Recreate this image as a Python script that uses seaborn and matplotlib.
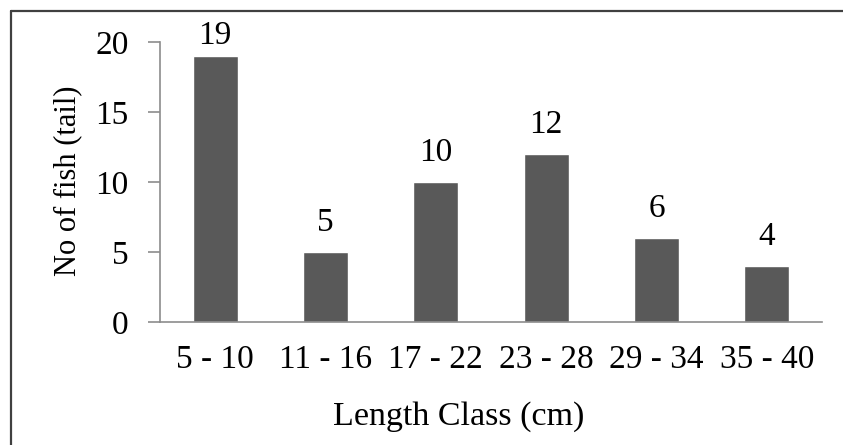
import matplotlib
matplotlib.use("Agg")
import matplotlib.pyplot as plt
import seaborn as sns
import pandas as pd
from matplotlib.lines import Line2D

length_classes = ["5 - 10", "11 - 16", "17 - 22", "23 - 28", "29 - 34", "35 - 40"]
fish_counts = [19, 5, 10, 12, 6, 4]

sns.set_theme(style="white")
plt.rcParams["font.family"] = ["Liberation Serif", "DejaVu Serif"]

df = pd.DataFrame({"Length Class (cm)": length_classes, "No of fish (tail)": fish_counts})

W, H = 843, 445
fs = 24
fig = plt.figure(figsize=(W / 100, H / 100), dpi=100)
fig.patch.set_facecolor("white")
ax = fig.add_axes([160 / W, 1 - 322 / H, (822 - 160) / W, (322 - 42) / H])

sns.barplot(data=df, x="Length Class (cm)", y="No of fish (tail)", color="#595959",
            saturation=1, width=0.41, ax=ax)

ax.set_ylim(0, 20)
ax.set_yticks([0, 5, 10, 15, 20])
ax.set_xlim(-0.5, len(length_classes) - 0.5)

axis_col = "#8c8c8c"
for side in ("top", "right"):
    ax.spines[side].set_visible(False)
for side in ("left", "bottom"):
    ax.spines[side].set_color(axis_col)
    ax.spines[side].set_linewidth(1.2)

ax.tick_params(axis="y", length=8.6, width=1.2, color=axis_col, pad=14,
               labelsize=fs, labelcolor="black", left=True)
ax.tick_params(axis="x", length=0, pad=16, labelsize=fs, labelcolor="black")

# axis titles
ax.set_xlabel("Length Class (cm)", fontsize=24.5, color="black")
ax.xaxis.label.set_va("baseline")
ax.xaxis.set_label_coords((459 - 160) / 662, (322 - 425) / 280)

ax.set_ylabel("No of fish (tail)", fontsize=22, color="black")
ax.yaxis.label.set_va("center")
ax.yaxis.set_label_coords((68 - 160) / 662, 0.505)

# value labels; the tallest bar's label is tucked closer so it stays inside the frame
for container in ax.containers:
    labels = ax.bar_label(container, labels=[str(v) for v in fish_counts], padding=10,
                          fontsize=fs, color="black")
    for lab, v in zip(labels, fish_counts):
        if v > 0.9 * ax.get_ylim()[1]:
            lab.xyann = (0, 3.5)

# outer chart frame (top and left edges)
frame_kw = dict(transform=fig.transFigure, color="#404040", linewidth=1.6)
fig.add_artist(Line2D([11 / W, 1.0], [1 - 11 / H, 1 - 11 / H], **frame_kw))
fig.add_artist(Line2D([11 / W, 11 / W], [0.0, 1 - 11 / H], **frame_kw))

fig.savefig("out.png", dpi=100, facecolor="white")
